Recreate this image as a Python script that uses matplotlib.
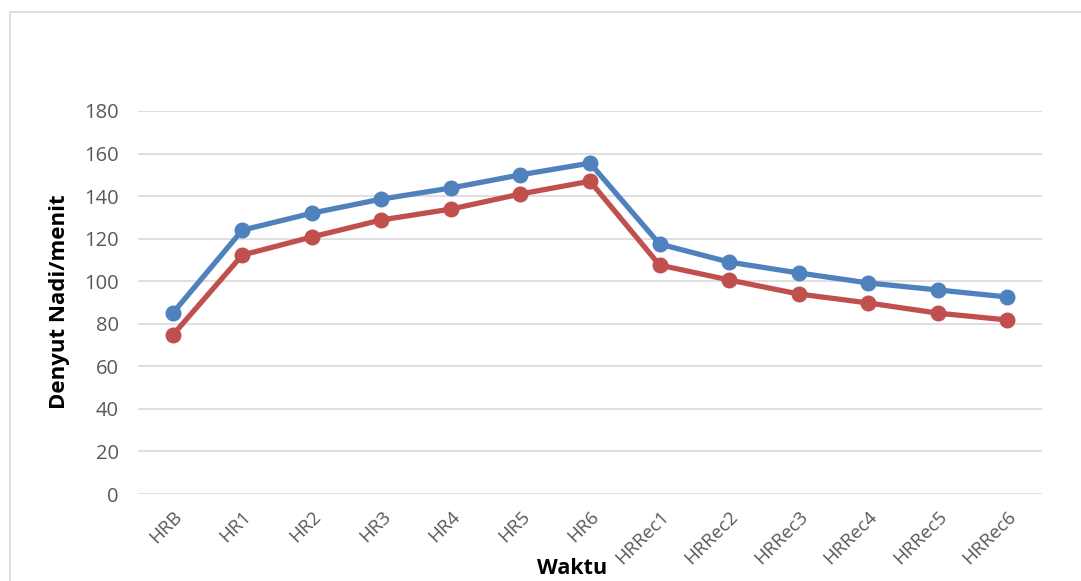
import matplotlib
matplotlib.use("Agg")
import matplotlib.pyplot as plt
from matplotlib.patches import Rectangle

categories = ["HRB", "HR1", "HR2", "HR3", "HR4", "HR5", "HR6",
              "HRRec1", "HRRec2", "HRRec3", "HRRec4", "HRRec5", "HRRec6"]
series_blue = [85, 124, 132, 138.6, 143.8, 150, 155.5, 117.5, 109, 103.9, 99.2, 95.9, 92.6]
series_red = [74.7, 112.3, 120.8, 128.8, 133.9, 141, 147, 107.6, 100.6, 94, 89.8, 85, 81.8]
yticks = list(range(0, 181, 20))

plt.rcParams['font.family'] = ['Open Sans', 'DejaVu Sans']

fig = plt.figure(figsize=(10.81, 5.81), dpi=100)
W, H = 1081, 581
ax = fig.add_axes([138 / W, 1 - 494 / H, (1042 - 138) / W, (494 - 111) / H])

x = list(range(len(categories)))
ax.plot(x, series_blue, color="#4F81BD", lw=3.8, marker="o", ms=10.5, solid_capstyle="round", zorder=3)
ax.plot(x, series_red, color="#C0504D", lw=3.8, marker="o", ms=10.5, solid_capstyle="round", zorder=3)

ax.set_xlim(-0.5, len(categories) - 0.5)
ax.set_ylim(0, 180)
ax.set_yticks(yticks)
ax.set_yticklabels([str(v) for v in yticks], fontsize=14.5, color="#595959")
ax.set_xticks(x)
ax.set_xticklabels(categories, rotation=45, ha="right", va="top",
                   rotation_mode="anchor", fontsize=13.5, color="#595959")
ax.tick_params(axis="both", length=0)
ax.tick_params(axis="x", pad=10)
ax.tick_params(axis="y", pad=14)
ax.grid(axis="y", color="#D9D9D9", lw=1.2)
ax.set_axisbelow(True)
for s in ax.spines.values():
    s.set_visible(False)

fig.text(60 / W, 1 - 302 / H, "Denyut Nadi/menit", rotation=90, ha="center", va="center",
         fontsize=16, fontweight="bold", color="black")
fig.text(572 / W, 1 - 568 / H, "Waktu", ha="center", va="center",
         fontsize=15.5, fontweight="bold", color="black")

fig.patches.append(Rectangle((10 / W, -0.1), 1.2, 1 - 12 / H + 0.1, transform=fig.transFigure,
                             fill=False, edgecolor="#D9D9D9", lw=1.2))

fig.savefig("out.png", dpi=100)
